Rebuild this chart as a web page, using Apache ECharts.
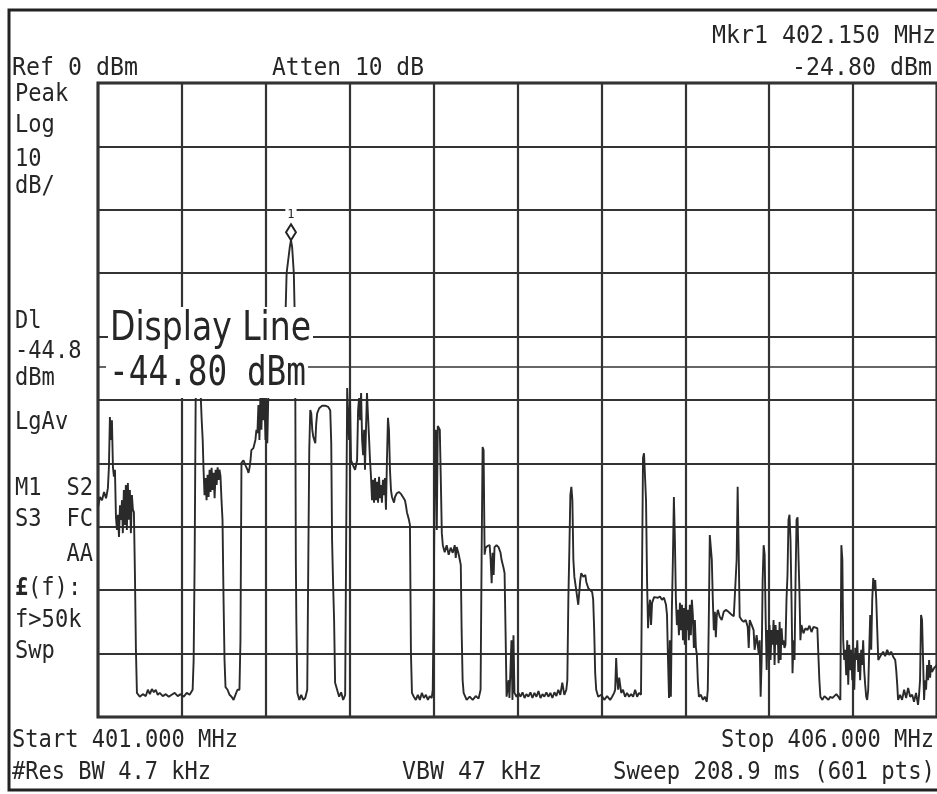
<!DOCTYPE html>
<html><head><meta charset="utf-8">
<script src="https://cdn.jsdelivr.net/npm/echarts@6/dist/echarts.min.js"></script>
<style>html,body{margin:0;padding:0;background:#fff}#c{width:937px;height:794px}</style>
</head><body><div id="c"></div>
<script>
// ---- data ----
const traceFreqMHz = [
401.000,401.012,401.024,401.036,401.048,401.059,401.065,401.071,401.077,401.083,
401.089,401.095,401.101,401.107,401.113,401.119,401.125,401.131,401.137,401.143,
401.148,401.154,401.160,401.166,401.172,401.178,401.184,401.190,401.196,401.202,
401.208,401.214,401.220,401.226,401.232,401.249,401.267,401.285,401.297,401.309,
401.321,401.333,401.344,401.356,401.368,401.386,401.404,401.422,401.439,401.457,
401.475,401.493,401.511,401.529,401.546,401.564,401.570,401.576,401.582,401.588,
401.600,401.612,401.618,401.624,401.629,401.635,401.641,401.647,401.653,401.659,
401.665,401.671,401.677,401.683,401.689,401.695,401.701,401.707,401.713,401.719,
401.724,401.730,401.736,401.742,401.748,401.754,401.760,401.772,401.784,401.796,
401.808,401.819,401.831,401.843,401.849,401.855,401.867,401.879,401.891,401.897,
401.903,401.909,401.914,401.926,401.938,401.944,401.950,401.956,401.962,401.968,
401.974,401.980,401.986,401.992,401.998,402.004,402.009,402.015,402.027,402.039,
402.057,402.075,402.093,402.104,402.119,402.124,402.143,402.150,402.157,402.167,
402.171,402.176,402.179,402.182,402.188,402.200,402.211,402.223,402.235,402.247,
402.253,402.259,402.265,402.271,402.277,402.283,402.289,402.295,402.300,402.306,
402.318,402.336,402.354,402.372,402.384,402.390,402.395,402.401,402.407,402.413,
402.425,402.437,402.449,402.461,402.473,402.479,402.485,402.491,402.496,402.502,
402.508,402.520,402.532,402.544,402.550,402.556,402.562,402.568,402.574,402.580,
402.586,402.591,402.597,402.603,402.609,402.615,402.621,402.627,402.633,402.639,
402.645,402.651,402.657,402.663,402.669,402.675,402.681,402.686,402.692,402.698,
402.704,402.710,402.716,402.722,402.728,402.734,402.740,402.746,402.752,402.764,
402.770,402.781,402.793,402.805,402.817,402.829,402.835,402.841,402.853,402.859,
402.865,402.871,402.882,402.894,402.906,402.918,402.930,402.942,402.954,402.966,
402.977,402.989,402.995,403.001,403.007,403.013,403.019,403.025,403.031,403.037,
403.043,403.049,403.055,403.066,403.078,403.090,403.102,403.114,403.126,403.132,
403.138,403.150,403.156,403.162,403.167,403.173,403.179,403.197,403.215,403.233,
403.251,403.268,403.280,403.286,403.292,403.298,403.304,403.310,403.322,403.334,
403.340,403.346,403.352,403.358,403.363,403.375,403.387,403.399,403.405,403.417,
403.423,403.429,403.435,403.447,403.452,403.458,403.464,403.470,403.476,403.482,
403.494,403.506,403.518,403.530,403.542,403.553,403.565,403.577,403.589,403.601,
403.613,403.625,403.637,403.649,403.660,403.672,403.684,403.696,403.708,403.720,
403.732,403.743,403.755,403.767,403.779,403.791,403.797,403.803,403.809,403.815,
403.821,403.827,403.833,403.839,403.850,403.862,403.868,403.874,403.880,403.892,
403.904,403.910,403.922,403.933,403.945,403.951,403.957,403.963,403.969,403.981,
403.999,404.017,404.034,404.052,404.064,404.076,404.082,404.088,404.094,404.100,
404.106,404.118,404.129,404.141,404.153,404.165,404.177,404.189,404.201,404.213,
404.224,404.236,404.242,404.248,404.254,404.260,404.266,404.272,404.278,404.284,
404.290,404.296,404.302,404.314,404.325,404.337,404.349,404.361,404.373,404.385,
404.391,404.397,404.403,404.408,404.414,404.420,404.426,404.432,404.438,404.444,
404.450,404.456,404.462,404.468,404.474,404.480,404.486,404.491,404.497,404.503,
404.509,404.515,404.521,404.527,404.533,404.539,404.545,404.551,404.557,404.563,
404.569,404.575,404.581,404.593,404.605,404.616,404.628,404.634,404.640,404.646,
404.652,404.658,404.664,404.670,404.676,404.682,404.688,404.694,404.705,404.717,
404.729,404.741,404.753,404.765,404.777,404.789,404.800,404.806,404.812,404.818,
404.824,404.836,404.848,404.860,404.872,404.878,404.884,404.896,404.907,404.913,
404.925,404.937,404.943,404.949,404.955,404.961,404.967,404.973,404.979,404.985,
404.991,404.996,405.002,405.008,405.014,405.020,405.026,405.032,405.038,405.044,
405.050,405.056,405.062,405.068,405.074,405.080,405.085,405.091,405.097,405.103,
405.109,405.115,405.121,405.127,405.133,405.139,405.145,405.151,405.157,405.163,
405.169,405.175,405.180,405.186,405.192,405.204,405.216,405.228,405.240,405.252,
405.264,405.275,405.287,405.293,405.299,405.305,405.317,405.329,405.341,405.353,
405.364,405.376,405.388,405.400,405.412,405.424,405.430,405.436,405.441,405.447,
405.453,405.459,405.465,405.471,405.477,405.483,405.489,405.495,405.501,405.507,
405.513,405.519,405.525,405.531,405.537,405.542,405.548,405.554,405.560,405.566,
405.572,405.578,405.584,405.590,405.596,405.602,405.608,405.614,405.620,405.626,
405.632,405.638,405.644,405.650,405.655,405.667,405.679,405.691,405.703,405.715,
405.727,405.739,405.751,405.757,405.763,405.768,405.780,405.792,405.804,405.816,
405.828,405.840,405.852,405.863,405.875,405.887,405.893,405.899,405.905,405.911,
405.917,405.923,405.929,405.935,405.941,405.947,405.953,405.959,405.964,405.970,
405.982,406.000
];
const traceLevelDbm = [
-66.9,-65.3,-65.8,-64.5,-65.5,-63.9,-60.6,-52.7,-56.3,-53.2,
-60.6,-62.1,-61.0,-68.5,-70.5,-68.1,-71.6,-66.6,-68.9,-65.8,
-71.0,-64.2,-69.7,-63.4,-70.5,-63.1,-68.9,-64.2,-71.0,-65.0,
-67.3,-67.7,-77.3,-89.4,-96.2,-96.8,-96.4,-96.7,-95.7,-96.4,
-95.6,-96.1,-95.7,-96.5,-96.2,-96.7,-96.4,-96.8,-96.5,-96.2,
-96.7,-96.4,-96.8,-96.2,-96.5,-95.7,-91.0,-75.2,-50.0,-47.6,
-46.8,-49.2,-53.2,-56.3,-61.0,-65.0,-62.3,-65.8,-61.8,-65.3,
-61.0,-64.5,-60.7,-64.2,-61.5,-65.5,-61.0,-63.4,-60.6,-62.6,
-61.0,-62.0,-65.8,-68.9,-81.1,-91.0,-95.3,-95.7,-96.5,-96.8,
-97.3,-96.5,-95.7,-95.7,-87.9,-59.9,-59.5,-60.3,-61.0,-61.5,
-60.7,-59.5,-57.9,-57.6,-56.3,-54.7,-55.2,-50.8,-56.3,-49.2,
-54.7,-48.4,-53.2,-49.7,-56.3,-50.0,-56.8,-49.2,-46.8,-46.1,
-45.6,-46.5,-45.3,-43.7,-35.0,-30.0,-25.9,-24.8,-25.9,-30.0,
-35.0,-50.0,-75.2,-84.7,-96.2,-97.3,-96.5,-97.3,-97.0,-95.7,
-76.3,-57.9,-51.6,-52.1,-54.7,-55.8,-56.3,-56.8,-53.9,-52.1,
-51.3,-50.9,-50.9,-51.1,-51.6,-56.8,-72.1,-78.9,-84.7,-94.6,
-95.7,-96.8,-96.1,-97.3,-96.5,-72.1,-48.1,-47.9,-56.3,-50.0,
-59.5,-60.3,-61.0,-59.5,-51.6,-49.7,-53.2,-48.9,-56.3,-58.7,
-54.7,-61.0,-54.7,-48.9,-52.4,-55.8,-59.5,-62.1,-65.8,-62.6,
-66.2,-62.3,-65.8,-62.9,-66.2,-62.1,-65.5,-63.4,-66.2,-62.6,
-65.0,-62.3,-67.3,-59.5,-52.8,-54.7,-61.0,-64.2,-65.3,-66.2,
-65.3,-64.7,-64.5,-64.8,-65.3,-65.8,-66.6,-67.7,-68.9,-69.7,
-89.9,-96.2,-96.8,-97.3,-96.5,-97.3,-96.2,-97.0,-96.5,-97.3,
-96.7,-97.0,-95.7,-81.5,-59.5,-54.7,-70.5,-54.1,-53.9,-54.7,
-62.6,-71.0,-72.9,-74.0,-72.9,-74.4,-73.3,-74.1,-72.9,-74.9,
-73.2,-74.4,-75.2,-76.0,-86.3,-94.2,-96.2,-97.3,-96.8,-97.3,
-96.7,-97.1,-95.7,-75.2,-57.4,-57.9,-74.4,-73.3,-73.0,-72.9,
-75.2,-78.9,-74.1,-77.6,-73.2,-72.9,-73.2,-74.1,-75.2,-76.5,
-77.3,-86.8,-96.8,-94.2,-97.0,-92.6,-87.9,-97.3,-87.1,-96.2,
-96.8,-96.2,-96.8,-96.1,-97.0,-96.4,-96.8,-96.1,-97.0,-96.2,
-96.8,-95.9,-97.0,-96.4,-96.8,-96.1,-96.8,-96.2,-97.0,-96.1,
-96.7,-95.7,-96.5,-94.6,-96.5,-95.7,-94.2,-81.5,-73.7,-65.0,
-63.7,-65.8,-75.2,-77.9,-80.0,-82.3,-82.6,-78.4,-77.3,-77.9,
-77.6,-78.7,-79.7,-79.5,-80.3,-81.5,-86.3,-93.1,-95.7,-96.8,
-96.5,-97.3,-96.7,-97.3,-96.8,-96.2,-95.7,-90.7,-94.2,-95.7,
-93.8,-96.2,-95.7,-96.8,-96.2,-96.8,-96.4,-96.8,-95.7,-96.8,
-96.2,-96.5,-77.6,-59.1,-58.4,-58.7,-65.8,-78.4,-86.0,-83.1,
-81.5,-85.5,-82.0,-81.1,-81.0,-81.2,-81.0,-81.5,-81.2,-82.3,
-83.9,-91.0,-97.0,-87.9,-96.8,-83.1,-75.2,-65.3,-72.1,-81.5,
-85.5,-83.1,-87.1,-82.0,-86.3,-82.3,-87.9,-82.8,-88.6,-82.3,
-86.3,-83.1,-87.9,-82.3,-87.1,-81.5,-83.9,-89.1,-84.7,-89.0,
-90.2,-94.5,-96.8,-96.5,-97.3,-96.8,-97.6,-95.7,-84.7,-71.3,
-71.0,-75.2,-81.5,-86.3,-83.4,-87.4,-83.9,-83.1,-84.2,-84.7,
-83.4,-83.1,-83.3,-83.6,-83.9,-84.1,-84.4,-75.2,-63.7,-73.7,
-84.2,-84.7,-85.0,-84.7,-85.8,-89.1,-84.7,-85.5,-86.3,-89.4,
-87.1,-89.9,-87.9,-96.8,-91.0,-78.4,-72.9,-74.4,-84.7,-92.6,
-86.3,-90.2,-85.5,-91.0,-86.3,-88.6,-84.7,-91.8,-85.5,-88.6,
-86.3,-91.5,-85.0,-91.0,-86.0,-88.6,-87.9,-89.1,-88.6,-81.5,
-77.6,-68.9,-68.1,-72.1,-81.5,-93.1,-87.9,-91.0,-78.4,-68.9,
-68.5,-75.2,-80.0,-87.9,-85.5,-86.8,-86.0,-86.3,-85.6,-86.6,
-85.8,-85.5,-86.0,-90.2,-94.2,-96.8,-97.3,-96.7,-97.0,-97.3,
-96.8,-97.0,-96.7,-96.4,-96.8,-97.3,-72.9,-75.2,-87.9,-91.0,
-89.4,-93.4,-87.9,-94.9,-88.6,-92.6,-89.4,-94.2,-90.2,-95.7,
-89.1,-91.0,-87.9,-92.9,-90.2,-94.2,-89.4,-91.8,-87.9,-92.6,
-94.9,-96.8,-97.3,-95.7,-89.4,-83.9,-89.4,-81.5,-78.1,-80.0,
-78.4,-81.5,-86.3,-91.0,-91.0,-90.2,-89.7,-90.4,-89.4,-90.2,
-89.7,-90.5,-91.0,-92.6,-94.9,-97.3,-96.5,-97.3,-95.7,-97.0,
-95.4,-96.8,-96.5,-97.6,-96.2,-98.1,-96.5,-94.2,-83.9,-84.7,
-91.0,-97.3,-94.2,-95.7,-91.8,-94.2,-91.0,-93.8,-91.8,-92.9,
-92.3,-91.8
];
const startMHz = 401.0, stopMHz = 406.0, mhzPerDiv = 0.5;
const refLevelDbm = 0, bottomDbm = -100, dbPerDiv = 10;
const displayLineDbm = -44.80;
const markerFreqMHz = 402.150, markerLevelDbm = -24.80;

// ---- texts ----
const headerTexts = ['Mkr1 402.150 MHz', 'Ref 0 dBm', 'Atten 10 dB', '-24.80 dBm'];
const footerTexts = ['Start 401.000 MHz', 'Stop 406.000 MHz', '#Res BW 4.7 kHz', 'VBW 47 kHz', 'Sweep 208.9 ms (601 pts)'];
const sideTexts = ['Peak', 'Log', '10', 'dB/', 'Dl', '-44.8', 'dBm', 'LgAv', 'M1', 'S2', 'S3', 'FC', 'AA', '£', '(f):', 'f>50k', 'Swp'];
const displayLineTexts = ['Display Line', '-44.80 dBm'];

const INK = '#262626';
const MONO = '"DejaVu Sans Mono", "Liberation Mono", monospace';
const meas = document.createElement('canvas').getContext('2d');
function txt(str, x, y, o) {
  o = o || {};
  const size = o.size || 24, fam = o.family || MONO, weight = o.weight || 'normal';
  const font = weight + ' ' + size + 'px ' + fam;
  let sx = o.sx || 0.92;
  if (o.w) { meas.font = font; sx = o.w / meas.measureText(str).width; }
  return { type: 'text', x: x, y: y, scaleX: sx, z: 100, silent: true,
    style: { text: str, x: 0, y: 0, font: font, fill: INK, align: o.align || 'left', verticalAlign: 'middle' } };
}

const graphics = [
  { type: 'rect', z: 90, silent: true, shape: { x: 9, y: 10, width: 990, height: 780 },
    style: { fill: 'none', stroke: '#222', lineWidth: 3 } },
  // header
  txt(headerTexts[0], 712, 36, { size: 25, w: 224 }),
  txt(headerTexts[1], 12, 68, { size: 25, w: 126 }),
  txt(headerTexts[2], 272, 68, { size: 25, w: 152 }),
  txt(headerTexts[3], 792, 68, { size: 25, w: 140 }),
  // footer
  txt(footerTexts[0], 12, 741, { size: 24, w: 226 }),
  txt(footerTexts[1], 721, 741, { size: 24, w: 213 }),
  txt(footerTexts[2], 12, 773, { size: 24, w: 199 }),
  txt(footerTexts[3], 402, 773, { size: 24, w: 140 }),
  txt(footerTexts[4], 613, 773, { size: 24, w: 322 }),
  // left annotations
  txt(sideTexts[0], 15, 95), txt(sideTexts[1], 15, 126), txt(sideTexts[2], 15, 160), txt(sideTexts[3], 15, 187),
  txt(sideTexts[4], 15, 322), txt(sideTexts[5], 15, 352), txt(sideTexts[6], 15, 379),
  txt(sideTexts[7], 15, 423),
  txt(sideTexts[8], 15, 489), txt(sideTexts[9], 93, 489, { align: 'right' }),
  txt(sideTexts[10], 15, 520), txt(sideTexts[11], 93, 520, { align: 'right' }),
  txt(sideTexts[12], 93, 555, { align: 'right' }),
  txt(sideTexts[13], 15, 589, { weight: 'bold' }), txt(sideTexts[14], 28, 589),
  txt(sideTexts[15], 15, 621), txt(sideTexts[16], 15, 652),
  // display line annotation box
  { type: 'rect', z: 95, silent: true, shape: { x: 108, y: 307, width: 205, height: 50 }, style: { fill: '#fff' } },
  { type: 'rect', z: 95, silent: true, shape: { x: 106, y: 357, width: 202, height: 41 }, style: { fill: '#fff' } },
  txt(displayLineTexts[0], 110, 330, { size: 40, family: '"DejaVu Sans", sans-serif', w: 201 }),
  txt(displayLineTexts[1], 109, 374, { size: 41, w: 197 })
];

const chart = echarts.init(document.getElementById('c'), null, { renderer: 'canvas' });
const axisCommon = {
  axisLine: { show: false }, axisTick: { show: false }, axisLabel: { show: false },
  splitLine: { show: true, lineStyle: { color: '#333', width: 2.2 } }
};
chart.setOption({
  animation: false,
  backgroundColor: '#fff',
  grid: { left: 98, top: 83, width: 842, height: 634, show: true, borderColor: '#222', borderWidth: 3, backgroundColor: 'transparent' },
  xAxis: Object.assign({ type: 'value', min: startMHz, max: stopMHz, interval: mhzPerDiv }, axisCommon),
  yAxis: Object.assign({ type: 'value', min: bottomDbm, max: refLevelDbm, interval: dbPerDiv }, axisCommon),
  series: [{
    type: 'line',
    data: traceFreqMHz.map((f, i) => [f, traceLevelDbm[i]]),
    showSymbol: false, symbol: 'none', sampling: null,
    lineStyle: { color: '#2a2a2a', width: 1.9 },
    silent: true,
    markLine: {
      silent: true, symbol: ['none', 'none'], label: { show: false },
      lineStyle: { type: 'solid', color: '#333', width: 1.6 },
      data: [{ yAxis: displayLineDbm }]
    },
    markPoint: {
      silent: true,
      symbol: 'diamond', symbolSize: [10, 16], symbolOffset: [0, -8],
      itemStyle: { color: 'rgba(255,255,255,0)', borderColor: '#222', borderWidth: 2 },
      label: { show: true, position: 'top', distance: 2, formatter: '1', color: INK,
        fontFamily: 'DejaVu Sans Mono', fontSize: 12, backgroundColor: '#fff', padding: [0, 2] },
      data: [{ coord: [markerFreqMHz, markerLevelDbm] }]
    }
  }],
  graphic: { elements: graphics }
});
</script>
</body></html>
